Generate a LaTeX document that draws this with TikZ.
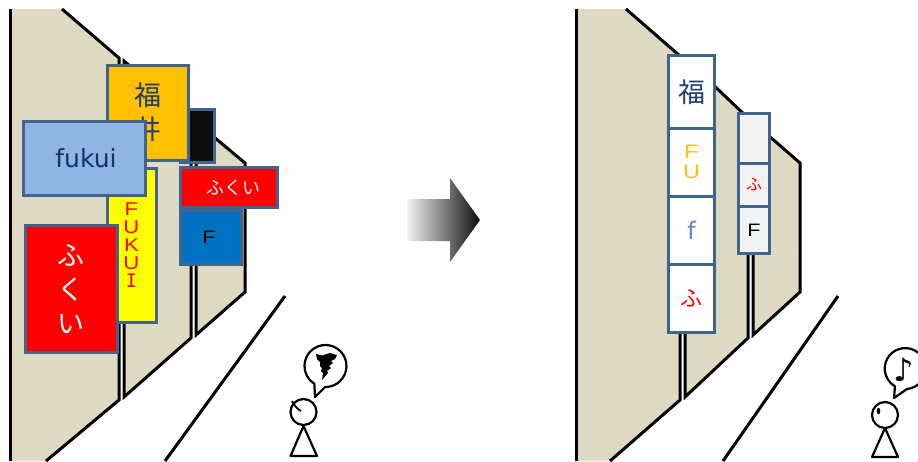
\documentclass[tikz,border=0pt]{standalone}
\usepackage{fontspec}
\setmainfont{DejaVu Sans}
\newfontfamily\jpf{Noto Sans CJK JP}
\newfontfamily\arf{Liberation Sans}
\newfontfamily\widef[FakeStretch=1.2]{Liberation Sans}
\newfontfamily\dvm{DejaVu Sans Mono}
\definecolor{wallc}{HTML}{DDD9C3}
\definecolor{signb}{HTML}{41648F}
\definecolor{inkb}{HTML}{1F3F6E}
\definecolor{navyt}{HTML}{17306B}
\definecolor{pureyellow}{HTML}{FFFF00}
\definecolor{nearblack}{HTML}{0D0D0D}
\definecolor{palegray}{HTML}{F2F2F2}
\tikzset{
  wall/.style={fill=wallc,draw=none},
  edge/.style={draw=black,line width=3pt,line join=miter,fill=none},
  thin ink/.style={draw=black,line width=2.2pt,fill=white,line join=round},
  signbox/.style={draw=signb,line width=3pt,inner sep=0pt,align=center,minimum width=#1},
  signbox/.default=10pt
}
\begin{document}
\begin{tikzpicture}[yscale=-1,x=1pt,y=1pt]
\clip (0,0) rectangle (918,461);
\fill[white] (0,0) rectangle (918,461);
% ---- left scene walls
\fill[wall] (196,122) -- (245,163) -- (245,292) -- (196,335) -- cycle;
\draw[edge] (196,122) -- (245,163) -- (245,292) -- (196,335) -- cycle;
\fill[wall] (124,61) -- (191,118) -- (191,338) -- (124,397) -- cycle;
\draw[edge] (124,61) -- (191,118) -- (191,338) -- (124,397) -- cycle;
\fill[wall] (10,9) -- (62,9) -- (119,58) -- (119,400) -- (46,461) -- (10,461) -- cycle;
\draw[edge] (10,9) -- (10,461);
\draw[edge] (62,9) -- (119,58) -- (119,400) -- (46,461);
\draw[edge] (285,296) -- (165,461);
% ---- left scene signs
\node[signbox=34pt,minimum height=53pt,fill=nearblack] (black) at (197,136) {};
\node[signbox=81pt,minimum height=95pt,fill={rgb,255:red,255;green,192;blue,0},text=inkb,font=\jpf\fontsize{27}{34}\selectfont] (fukuikanji) at (147.5,112.5) {福\\井};
\node[signbox=49pt,minimum height=154pt,fill=pureyellow,text=red,font=\widef\fontsize{18.5}{18}\selectfont] (fukuiroman) at (131.5,245) {F\\U\\K\\U\\{\dvm I}};
\node[signbox=122pt,minimum height=74pt,fill={rgb,255:red,142;green,180;blue,227},text=navyt,font=\fontsize{25}{28}\selectfont] (fukuilatin) at (84.5,158) {\hspace*{3pt}fukui};
\node[signbox=92pt,minimum height=127pt,fill=red,text=white,font=\jpf\fontsize{27}{34}\selectfont] (fukuikana) at (71,289) {ふ\\く\\い};
\node[signbox=97pt,minimum height=40pt,fill=red,text=white,font=\jpf\fontsize{18}{22}\selectfont] (smallred) at (229,187.5) {\hspace*{8pt}ふくい};
\node[signbox=61pt,minimum height=54pt,fill={rgb,255:red,0;green,112;blue,192},text=black,font=\widef\fontsize{18}{22}\selectfont] (bluef) at (211,237) {F\hspace*{4pt}};
% ---- left person
\draw[thin ink,fill=none] (315,397) -- (325.1,387) arc[start angle=91,delta angle=-329,radius=21pt] -- cycle;
\fill[black] (316,354) -- (322,355.5) -- (330,353) -- (337,355) -- (335,359) -- (331,361) -- (333,363) -- (329,366) -- (331,368) -- (327,371) -- (328,373) -- (322,380) -- (323,373) -- (321,371) -- (322,368) -- (320,366) -- (320,362) -- (317,359) -- cycle;
\draw[thin ink] (303.5,426) -- (290.5,456) -- (317,456) -- cycle;
\draw[thin ink] (303.5,412) circle[radius=13pt];
\draw[black,line width=1.8pt] (292,401) .. controls (294,405) and (297,409) .. (301,411);
% ---- arrow
\shade[left color=palegray,right color=nearblack] (407,199) -- (450,199) -- (450,178) -- (480,220) -- (450,262) -- (450,241) -- (407,241) -- cycle;
% ---- right scene walls
\fill[wall] (753,122) -- (800,163) -- (800,292) -- (753,335) -- cycle;
\draw[edge] (753,122) -- (800,163) -- (800,292) -- (753,335) -- cycle;
\fill[wall] (685,58) -- (748,118) -- (748,338) -- (685,397) -- cycle;
\draw[edge] (685,58) -- (748,118) -- (748,338) -- (685,397) -- cycle;
\fill[wall] (576,9) -- (626,9) -- (680,56) -- (680,400) -- (610,461) -- (576,461) -- cycle;
\draw[edge] (576,9) -- (576,461);
\draw[edge] (626,9) -- (680,56) -- (680,400) -- (610,461);
\draw[edge] (838,296) -- (723,461);
% ---- right scene signs
\node[signbox=46pt,minimum height=73pt,fill=white,text=inkb,font=\jpf\fontsize{27}{32}\selectfont] (rkanji) at (691.5,92) {福};
\node[signbox=46pt,minimum height=68pt,fill=white,text={rgb,255:red,255;green,192;blue,0},font=\widef\fontsize{19.5}{19.5}\selectfont] (rfu) at (691.5,162) {F\\U};
\node[signbox=46pt,minimum height=68pt,fill=white,text={rgb,255:red,91;green,139;blue,208},font=\fontsize{24}{28}\selectfont] (rf) at (691.5,230) {f};
\node[signbox=46pt,minimum height=68pt,fill=white,text=red,font=\jpf\fontsize{22}{24}\selectfont] (rfuk) at (691.5,298) {ふ};
\node[signbox=31pt,minimum height=50pt,fill=palegray] (rblank) at (754,138) {};
\node[signbox=31pt,minimum height=43pt,fill=palegray,text=red,font=\jpf\fontsize{16}{18}\selectfont] (rsmall) at (754,185) {ふ};
\node[signbox=31pt,minimum height=47pt,fill=palegray,text=black,font=\widef\fontsize{18}{22}\selectfont] (rsf) at (754,230) {F};
% ---- right person
\draw[thin ink,fill=none] (894,398) -- (907,389) arc[start angle=85,delta angle=-325,radius=20.5pt] -- cycle;
\node[inner sep=0pt,font=\fontsize{32}{34}\selectfont,text=black] (note) at (904,370) {♪};
\draw[thin ink] (885,428) -- (872,457) -- (898,457) -- cycle;
\draw[thin ink] (885,415) circle[radius=13pt];
\fill[black] (878.5,411) ellipse[x radius=1.8pt,y radius=3.2pt];
\end{tikzpicture}
\end{document}
